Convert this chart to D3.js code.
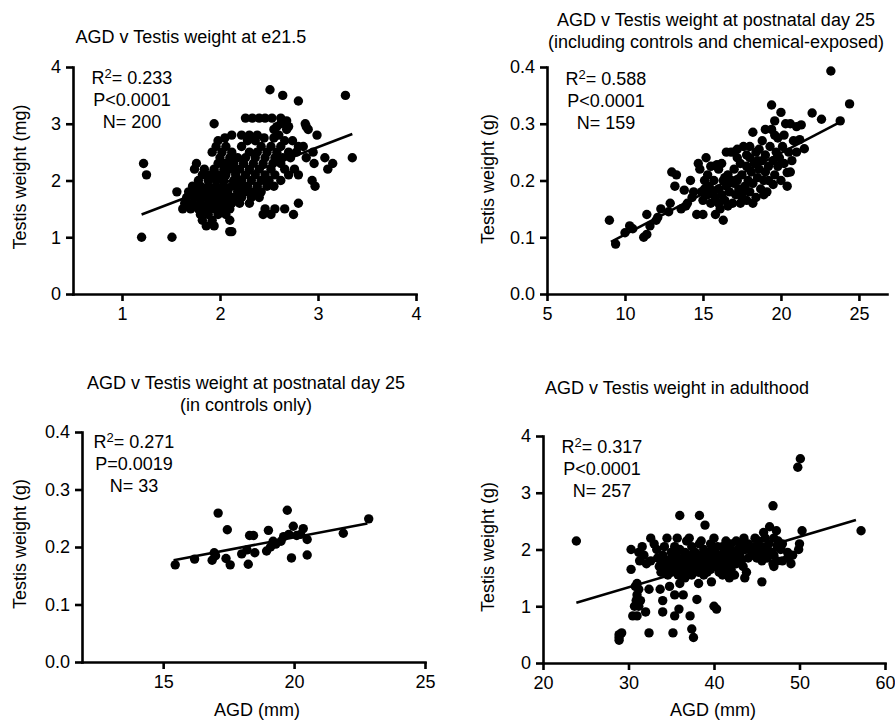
<!DOCTYPE html>
<html>
<head>
<meta charset="utf-8">
<script src="https://cdn.jsdelivr.net/npm/d3@7"></script>
<style>
  body { margin: 0; background: #fff; }
  svg { font-family: "Liberation Sans", Arial, sans-serif; }
  .axis path, .axis line { stroke: #000; stroke-width: 2.6; }
  .axis text { font-size: 18px; fill: #000; }
</style>
</head>
<body>
<svg id="chart" width="895" height="720"></svg>
<script>
// points are written as rows: [y, [x, x, ...]]
const e215Rows = [
    [3.6, [2.51]], [3.5, [2.64, 3.28]], [3.4, [2.80]],
    [3.1, [2.26, 2.33, 2.40, 2.46, 2.53, 2.62]], [3.05, [2.68]],
    [3.0, [1.94, 2.87, 2.62]], [2.95, [2.58, 2.70, 2.88]], [2.9, [2.55, 2.90, 2.68]],
    [2.8, [2.12, 2.22, 2.30, 2.38, 2.60, 2.99]], [2.75, [2.05, 2.45, 2.55]],
    [2.7, [1.98, 2.28, 2.36, 2.66, 2.74]],
    [2.6, [1.96, 2.06, 2.22, 2.42, 2.52, 2.62, 2.80, 2.85]],
    [2.5, [1.92, 2.02, 2.12, 2.30, 2.38, 2.48, 2.58, 2.70, 2.78, 2.95]],
    [2.4, [2.00, 2.10, 2.18, 2.26, 2.36, 2.46, 2.56, 2.64, 2.72, 2.88, 3.07, 3.35]],
    [2.3, [1.22, 1.76, 1.98, 2.06, 2.14, 2.24, 2.34, 2.44, 2.54, 2.62, 2.96, 3.15]],
    [2.2, [1.74, 1.84, 1.94, 2.04, 2.12, 2.20, 2.30, 2.40, 2.52, 2.66, 2.76, 3.10]],
    [2.1, [1.25, 1.82, 1.90, 1.98, 2.06, 2.16, 2.26, 2.36, 2.46, 2.56, 2.70, 2.80]],
    [2.0, [1.78, 1.88, 1.96, 2.04, 2.14, 2.22, 2.32, 2.42, 2.50, 2.62, 2.94]],
    [1.9, [1.72, 1.80, 1.88, 1.96, 2.04, 2.12, 2.20, 2.28, 2.38, 2.48, 2.55, 2.97]],
    [1.8, [1.56, 1.68, 1.76, 1.84, 1.92, 2.00, 2.08, 2.18, 2.26, 2.34, 2.42]],
    [1.7, [1.66, 1.74, 1.82, 1.90, 1.98, 2.06, 2.14, 2.22, 2.32, 2.40]],
    [1.6, [1.64, 1.72, 1.80, 1.88, 1.96, 2.04, 2.12, 2.20, 2.30, 2.80]],
    [1.5, [1.62, 1.70, 1.78, 1.86, 1.94, 2.02, 2.10, 2.46, 2.56, 2.66]],
    [1.4, [1.80, 1.88, 1.98, 2.06, 2.44, 2.52, 2.75]],
    [1.3, [1.82, 1.92, 2.10]], [1.2, [1.86, 1.94]], [1.1, [2.10, 2.12]],
    [1.0, [1.20, 1.51]]
];

const pnd25All = [
    [9.0, 0.13], [9.4, 0.088], [10.0, 0.108], [10.3, 0.12], [10.5, 0.115], [11.2, 0.1], [11.4, 0.105],
    [11.4, 0.14], [11.6, 0.12], [12.0, 0.13], [12.1, 0.135], [12.3, 0.15], [12.8, 0.145], [12.9, 0.16],
    [13.0, 0.215], [13.3, 0.21], [13.6, 0.15], [13.8, 0.183], [13.9, 0.155], [14.2, 0.2], [14.3, 0.17],
    [14.6, 0.14], [14.7, 0.23], [14.8, 0.22], [14.9, 0.18], [15.0, 0.14], [15.0, 0.165], [15.1, 0.2],
    [15.2, 0.24], [15.3, 0.175], [15.4, 0.19], [15.5, 0.16], [15.6, 0.18], [15.7, 0.2], [15.8, 0.17],
    [15.9, 0.228], [16.0, 0.16], [16.0, 0.185], [16.1, 0.15], [16.2, 0.175], [16.3, 0.13], [16.3, 0.2],
    [16.4, 0.165], [16.5, 0.19], [16.5, 0.25], [16.6, 0.21], [16.7, 0.18], [16.8, 0.25], [16.9, 0.16],
    [17.0, 0.195], [17.0, 0.22], [17.1, 0.175], [17.2, 0.255], [17.2, 0.2], [17.3, 0.185], [17.4, 0.23],
    [17.5, 0.17], [17.5, 0.21], [17.6, 0.26], [17.7, 0.19], [17.8, 0.225], [17.8, 0.165], [17.9, 0.2],
    [18.0, 0.24], [18.0, 0.18], [18.1, 0.215], [18.2, 0.285], [18.2, 0.195], [18.3, 0.23], [18.4, 0.17],
    [18.4, 0.25], [18.5, 0.205], [18.6, 0.22], [18.7, 0.185], [18.8, 0.27], [18.8, 0.235], [18.9, 0.2],
    [19.0, 0.245], [19.0, 0.215], [19.1, 0.18], [19.2, 0.225], [19.3, 0.26], [19.4, 0.333], [19.4, 0.29],
    [19.5, 0.193], [19.5, 0.235], [19.6, 0.28], [19.6, 0.21], [19.7, 0.25], [19.8, 0.225], [19.9, 0.24],
    [20.0, 0.32], [20.0, 0.2], [20.1, 0.26], [20.2, 0.23], [20.3, 0.3], [20.4, 0.214], [20.4, 0.19],
    [20.5, 0.25], [20.6, 0.3], [20.7, 0.235], [21.0, 0.295], [21.2, 0.272], [21.3, 0.298], [21.5, 0.256],
    [22.0, 0.319], [22.6, 0.308], [23.2, 0.393], [23.8, 0.305], [24.4, 0.335],
    [15.3, 0.21], [16.0, 0.22], [16.8, 0.2], [17.2, 0.24], [17.6, 0.18], [18.0, 0.26], [18.5, 0.235],
    [19.2, 0.2], [18.6, 0.255], [17.4, 0.16], [16.6, 0.155], [15.8, 0.14], [14.4, 0.18], [13.2, 0.19],
    [19.8, 0.275], [20.2, 0.28], [21.0, 0.25], [20.8, 0.27], [19.0, 0.29], [18.2, 0.16], [17.0, 0.25],
    [16.2, 0.23], [15.5, 0.225], [14.0, 0.16], [19.6, 0.305], [20.6, 0.215], [18.9, 0.175], [17.8, 0.245],
    [16.4, 0.205], [15.1, 0.185]
];

const pnd25Controls = [
    [15.46, 0.169], [16.2, 0.179], [16.87, 0.177], [16.95, 0.19], [17.1, 0.259], [17.45, 0.23],
    [17.4, 0.18], [17.56, 0.169], [18.0, 0.188], [18.25, 0.17], [18.3, 0.22], [18.45, 0.22],
    [18.5, 0.19], [18.2, 0.195], [18.95, 0.193], [19.02, 0.229], [19.1, 0.2], [19.3, 0.205],
    [19.5, 0.21], [19.6, 0.218], [19.8, 0.222], [19.74, 0.264], [19.9, 0.181], [19.97, 0.236],
    [20.1, 0.22], [20.35, 0.232], [20.25, 0.222], [20.5, 0.213], [20.5, 0.186], [21.88, 0.224],
    [22.85, 0.249], [17.0, 0.185], [19.2, 0.21]
];

const adultRows = [
    [3.6, [50.1]], [3.45, [49.8]], [2.77, [46.9]], [2.6, [36.0, 38.3]], [2.43, [38.95]],
    [2.4, [46.5]], [2.33, [57.2, 50.3, 47.3]], [2.3, [45.8]],
    [2.2, [32.6, 34.5, 35.7, 37.1, 40.0, 43.5, 44.8, 46.0, 47.0]],
    [2.15, [23.9, 36.8, 38.5, 41.4, 42.6, 45.2, 47.5]],
    [2.1, [33.0, 38.3, 39.6, 42.0, 43.0, 44.0, 46.4, 48.0, 50.0]],
    [2.05, [31.6, 34.2, 35.4, 37.4, 40.4, 41.0, 44.6, 45.6, 47.4]],
    [2.0, [30.3, 33.3, 36.0, 38.8, 39.8, 41.6, 42.8, 43.6, 44.2, 45.0, 46.2, 47.8, 49.9]],
    [1.95, [31.2, 35.0, 36.6, 37.8, 40.0, 41.2, 42.2, 45.4, 46.8, 48.6]],
    [1.9, [31.8, 34.0, 35.6, 37.2, 38.4, 39.2, 40.6, 41.8, 43.0, 44.4, 45.6, 47.0, 49.2]],
    [1.85, [33.4, 35.0, 36.4, 37.6, 38.8, 40.0, 41.4, 42.4, 44.0, 45.0, 46.2, 48.6]],
    [1.8, [31.3, 32.6, 34.4, 35.8, 36.8, 38.0, 39.4, 40.4, 41.8, 43.2, 45.6, 47.4, 48.0]],
    [1.75, [32.1, 33.8, 35.2, 36.2, 37.4, 38.6, 39.8, 41.0, 42.6, 46.9, 49.0]],
    [1.7, [33.6, 34.8, 35.8, 36.8, 37.8, 39.0, 40.2, 41.6, 43.4, 47.0]],
    [1.65, [30.3, 34.2, 35.4, 36.4, 37.2, 38.4, 39.6, 40.8, 42.0]],
    [1.6, [33.8, 35.0, 36.0, 37.0, 38.2, 39.2, 40.6, 41.4, 43.8]],
    [1.55, [34.6, 35.8, 37.4, 38.8, 41.0, 42.4]],
    [1.5, [36.6, 41.8, 43.6]], [1.43, [39.7, 45.6]], [1.4, [31.0, 36.0, 38.2]],
    [1.35, [30.8, 34.8]], [1.3, [31.2, 32.4, 33.7]], [1.2, [31.0, 35.4, 36.4]],
    [1.12, [38.0]], [1.1, [30.9, 31.4, 34.0]], [1.0, [30.7, 31.2, 40.0]],
    [0.95, [35.9, 40.3]], [0.9, [32.0, 34.0]], [0.83, [30.5, 31.0, 35.4, 37.2]],
    [0.6, [37.4]], [0.53, [32.4, 35.2, 29.2]], [0.5, [28.9]], [0.45, [37.6, 28.9]], [0.4, [28.9]]
];

// regression lines as drawn: [x0, y0], [x1, y1]
const e215Fit = [[1.2, 1.40], [3.35, 2.82]];
const pnd25AllFit = [[9.1, 0.092], [24.0, 0.306]];
const pnd25ControlsFit = [[15.4, 0.177], [22.8, 0.241]];
const adultFit = [[23.9, 1.06], [56.6, 2.52]];

const titles = [
    ["AGD v Testis weight at e21.5"],
    ["AGD v Testis weight at postnatal day 25", "(including controls and chemical-exposed)"],
    ["AGD v Testis weight at postnatal day 25", "(in controls only)"],
    ["AGD v Testis weight in adulthood"]
];
const stats = [
    ["0.233", "P<0.0001", "N= 200"],
    ["0.588", "P<0.0001", "N= 159"],
    ["0.271", "P=0.0019", "N= 33"],
    ["0.317", "P<0.0001", "N= 257"]
];
const yLabels = ["Testis weight (mg)", "Testis weight (g)", "Testis weight (g)", "Testis weight  (g)"];
const xLabels = [null, null, "AGD  (mm)", "AGD (mm)"];
const xTicks = [[1, 2, 3, 4], [5, 10, 15, 20, 25], [15, 20, 25], [20, 30, 40, 50, 60]];
const yTicks = [[0, 1, 2, 3, 4], [0, 0.1, 0.2, 0.3, 0.4], [0, 0.1, 0.2, 0.3, 0.4], [0, 1, 2, 3, 4]];

const fromRows = rows => rows.flatMap(([y, xs]) => xs.map(x => [x, y]));

const panels = [
    { pts: fromRows(e215Rows), fit: e215Fit, xd: [0.5, 4], xr: [73, 416], yd: [0, 4], yr: [294, 67], fmt: d3.format("d"),
      titleX: 191, titleY: 37, ylx: 20, yly: 177, statX: 132, statY: 78 },
    { pts: pnd25All, fit: pnd25AllFit, xd: [5, 26.8], xr: [547, 887], yd: [0, 0.4], yr: [294, 67], fmt: d3.format(".1f"),
      titleX: 716, titleY: 20, ylx: 488, yly: 179, statX: 606, statY: 79 },
    { pts: pnd25Controls, fit: pnd25ControlsFit, xd: [11.9, 25], xr: [82, 425], yd: [0, 0.4], yr: [662, 432], fmt: d3.format(".1f"),
      titleX: 246, titleY: 383, ylx: 20, yly: 544, statX: 134, statY: 442, xlx: 257, xly: 710 },
    { pts: fromRows(adultRows), fit: adultFit, xd: [20, 60], xr: [543, 885], yd: [0, 4], yr: [663, 436], fmt: d3.format("d"),
      titleX: 677, titleY: 388, ylx: 488, yly: 547, statX: 602, statY: 447, xlx: 713, xly: 710 }
];

const svg = d3.select("#chart");

panels.forEach((p, i) => {
    const x = d3.scaleLinear().domain(p.xd).range(p.xr);
    const y = d3.scaleLinear().domain(p.yd).range(p.yr);
    const g = svg.append("g");

    g.append("g")
        .attr("class", "axis")
        .attr("transform", `translate(0,${p.yr[0]})`)
        .call(d3.axisBottom(x).tickValues(xTicks[i]).tickSize(7).tickSizeOuter(0).tickPadding(6).tickFormat(d3.format("d")));

    g.append("g")
        .attr("class", "axis")
        .attr("transform", `translate(${p.xr[0]},0)`)
        .call(d3.axisLeft(y).tickValues(yTicks[i]).tickSize(7).tickSizeOuter(0).tickPadding(5).tickFormat(p.fmt));

    g.selectAll(".axis .domain").attr("stroke-linecap", "square");

    g.append("g")
        .selectAll("circle")
        .data(p.pts)
        .join("circle")
        .attr("cx", d => x(d[0]))
        .attr("cy", d => y(d[1]))
        .attr("r", 4.7)
        .attr("fill", "#000");

    g.append("path")
        .datum(p.fit)
        .attr("fill", "none")
        .attr("stroke", "#000")
        .attr("stroke-width", 2.6)
        .attr("d", d3.line().x(d => x(d[0])).y(d => y(d[1])));

    titles[i].forEach((t, k) => {
        g.append("text")
            .attr("x", p.titleX)
            .attr("y", p.titleY + k * 22)
            .attr("dy", "0.35em")
            .attr("text-anchor", "middle")
            .attr("font-size", 18)
            .text(t);
    });

    const s = stats[i];
    const r2 = g.append("text")
        .attr("x", p.statX)
        .attr("y", p.statY)
        .attr("dy", "0.35em")
        .attr("text-anchor", "middle")
        .attr("font-size", 18);
    r2.append("tspan").text("R");
    r2.append("tspan").attr("font-size", 13).attr("dy", "-0.5em").text("2");
    r2.append("tspan").attr("dy", "0.36em").text("= " + s[0]);

    s.slice(1).forEach((t, k) => {
        g.append("text")
            .attr("x", p.statX)
            .attr("y", p.statY + (k + 1) * 22)
            .attr("dy", "0.35em")
            .attr("text-anchor", "middle")
            .attr("font-size", 18)
            .text(t);
    });

    g.append("text")
        .attr("transform", `translate(${p.ylx},${p.yly}) rotate(-90)`)
        .attr("dy", "0.35em")
        .attr("text-anchor", "middle")
        .attr("font-size", 18)
        .text(yLabels[i]);

    if (xLabels[i]) {
        g.append("text")
            .attr("x", p.xlx)
            .attr("y", p.xly)
            .attr("dy", "0.35em")
            .attr("text-anchor", "middle")
            .attr("font-size", 18)
            .text(xLabels[i]);
    }
});
</script>
</body>
</html>
